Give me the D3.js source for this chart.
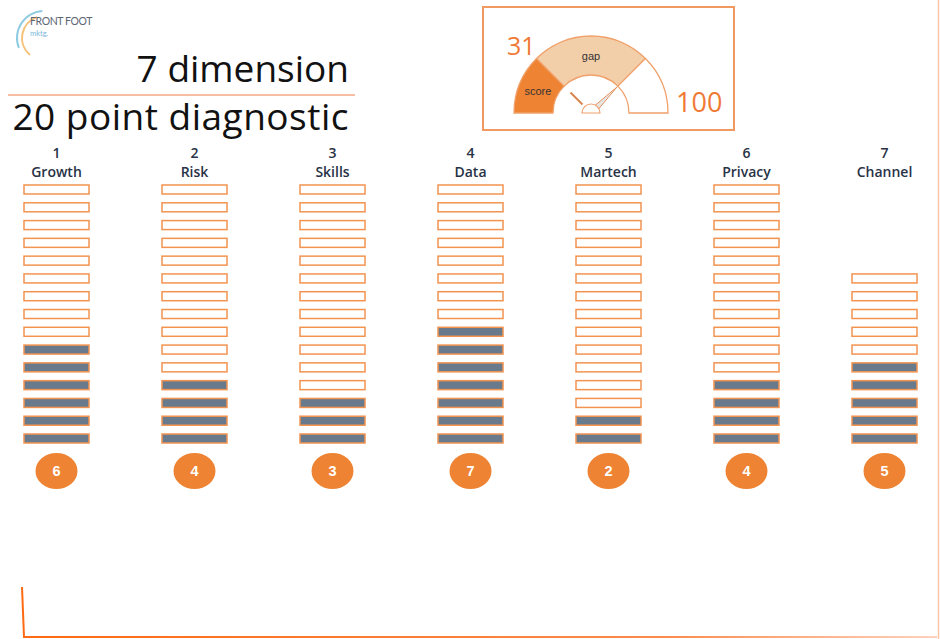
<!DOCTYPE html>
<html>
<head>
<meta charset="utf-8">
<script src="https://cdn.jsdelivr.net/npm/d3@7"></script>
<style>
  body { margin: 0; background: #fff; }
  svg { display: block; }
</style>
</head>
<body>
<div id="chart"></div>
<script>
// dimensions, in the order they appear
var categories = ["Growth", "Risk", "Skills", "Data", "Martech", "Privacy", "Channel"];
var maxPoints = [15, 15, 15, 15, 15, 15, 10];
var scores = [6, 4, 3, 7, 2, 4, 5];

// gauge bands (0-100 scale) and its two end labels
var gaugeBands = [
  { label: "score", from: 0, to: 25 },
  { label: "gap", from: 25, to: 75 },
  { label: "", from: 75, to: 100 }
];
var gaugeScore = 31;
var gaugeMax = 100;
var needleAt = 75;
var markerAt = 25;

var titleLines = ["7 dimension", "20 point diagnostic"];

var W = 940, H = 639;
var orange = "#ee8433", slate = "#687a8c", ink = "#283246";

var svg = d3.select("#chart")
    .append("svg")
    .attr("width", W).attr("height", H)

var defs = svg.append("defs")
var grad = defs.append("linearGradient").attr("id", "fade")
grad.append("stop").attr("offset", "0%").attr("stop-color", "#ff6a13")
grad.append("stop").attr("offset", "70%").attr("stop-color", "#fb8a4c")
grad.append("stop").attr("offset", "100%").attr("stop-color", "#fdd2bd")

// frame lines
svg.append("line")
  .attr("x1", 938.5).attr("y1", 0).attr("x2", 938.5).attr("y2", H)
  .attr("stroke", "#fcc6ad").attr("stroke-width", 1.5)
svg.append("path")
  .attr("d", "M22,587 L24,637")
  .attr("fill", "none").attr("stroke", "#ff6a13").attr("stroke-width", 2)
svg.append("rect")
  .attr("x", 23).attr("y", 636).attr("width", 914).attr("height", 2)
  .attr("fill", "url(#fade)")

// logo
var logo = svg.append("g").attr("transform", "translate(44,38)")
logo.append("path")
  .attr("d", d3.arc().innerRadius(26).outerRadius(28)
        .startAngle(-Math.PI * 0.62).endAngle(-Math.PI * 0.02)())
  .attr("fill", "#8ecbe0")
logo.append("path")
  .attr("d", d3.arc().innerRadius(21).outerRadius(23)
        .startAngle(-Math.PI * 0.78).endAngle(-Math.PI * 0.1)())
  .attr("fill", "#f6c27a")
logo.append("text")
  .attr("x", -14).attr("y", -13)
  .attr("font-family", "Lato, sans-serif").attr("font-size", 10.5)
  .attr("fill", "#5b6573").attr("letter-spacing", -0.4)
  .text("FRONT FOOT")
logo.append("text")
  .attr("x", -14).attr("y", -2)
  .attr("font-family", "Lato, sans-serif").attr("font-size", 7.5)
  .attr("fill", "#7ab8d9")
  .text("mktg.")

// title
svg.selectAll(".title")
  .data(titleLines)
  .enter()
  .append("text")
  .attr("class", "title")
  .attr("x", 349)
  .attr("y", (d, i) => 82 + i * 48)
  .attr("text-anchor", "end")
  .attr("font-family", "'Open Sans', sans-serif")
  .attr("font-size", 37)
  .attr("letter-spacing", (d, i) => i ? 0.5 : 0)
  .attr("fill", "#111")
  .text(d => d)
svg.append("line")
  .attr("x1", 8).attr("x2", 355).attr("y1", 95).attr("y2", 95)
  .attr("stroke", "#f6a985").attr("stroke-width", 1.5)

// gauge box
svg.append("rect")
  .attr("x", 483).attr("y", 7).attr("width", 251).attr("height", 123)
  .attr("fill", "none").attr("stroke", "#f09a62").attr("stroke-width", 2)

var g = svg.append("g").attr("transform", "translate(591,113)")
var ang = d3.scaleLinear().domain([0, gaugeMax]).range([-Math.PI / 2, Math.PI / 2])
var arc = d3.arc().innerRadius(38).outerRadius(77)
var bandFill = { score: "#ee8433", gap: "#f3cfa9", "": "#fff" }

g.selectAll(".band")
  .data(gaugeBands)
  .enter()
  .append("path")
  .attr("class", "band")
  .attr("d", d => arc({ startAngle: ang(d.from), endAngle: ang(d.to) }))
  .attr("fill", d => bandFill[d.label])
  .attr("stroke", "#f0a06a").attr("stroke-width", 1.3)

g.selectAll(".bandlbl")
  .data(gaugeBands.filter(d => d.label))
  .enter()
  .append("text")
  .attr("class", "bandlbl")
  .attr("transform", d => {
    var c = arc.centroid({ startAngle: ang(d.from), endAngle: ang(d.to) })
    return "translate(" + c[0] + "," + (c[1] + 4) + ")"
  })
  .attr("text-anchor", "middle")
  .attr("font-family", "Liberation Sans, Arial, sans-serif")
  .attr("font-size", 11)
  .attr("fill", "#333")
  .text(d => d.label)

function polar(v, r) {
  var a = ang(v)
  return [r * Math.sin(a), -r * Math.cos(a)]
}

// marker tick
var m0 = polar(markerAt, 12), m1 = polar(markerAt, 29)
g.append("line")
  .attr("x1", m0[0]).attr("y1", m0[1]).attr("x2", m1[0]).attr("y2", m1[1])
  .attr("stroke", "#d98650").attr("stroke-width", 2)

// needle
var a = ang(needleAt)
var tip = polar(needleAt, 37)
var side = 2.5
var b1 = [8 * Math.sin(a) + side * Math.cos(a), -8 * Math.cos(a) + side * Math.sin(a)]
var b2 = [8 * Math.sin(a) - side * Math.cos(a), -8 * Math.cos(a) - side * Math.sin(a)]
g.append("path")
  .attr("d", "M" + b1 + "L" + tip + "L" + b2 + "Z")
  .attr("fill", "#e6e6e6").attr("stroke", "#e9925a").attr("stroke-width", 1)
g.append("path")
  .attr("d", d3.arc().innerRadius(0).outerRadius(9)
        .startAngle(-Math.PI / 2).endAngle(Math.PI / 2)())
  .attr("fill", "#fff").attr("stroke", "#f0a06a").attr("stroke-width", 1.2)

g.append("text")
  .attr("x", -84).attr("y", -58)
  .attr("font-family", "'Open Sans', sans-serif").attr("font-size", 25)
  .attr("fill", "#f07a35")
  .text(gaugeScore)
g.append("text")
  .attr("x", 85).attr("y", -1)
  .attr("font-family", "'Open Sans', sans-serif").attr("font-size", 27)
  .attr("fill", "#f07a35")
  .text(gaugeMax)

// dimension columns
var x = d3.scalePoint().domain(categories).range([56.5, 884.5])
var y = d3.scaleLinear().domain([0, 14]).range([434, 185])
var barW = 65, barH = 9

var cols = svg.selectAll(".col")
  .data(categories.map((c, i) => ({ name: c, idx: i + 1, max: maxPoints[i], score: scores[i] })))
  .enter()
  .append("g")
  .attr("class", "col")
  .attr("transform", d => "translate(" + x(d.name) + ",0)")

cols.append("text")
  .attr("y", 158)
  .attr("text-anchor", "middle")
  .attr("font-family", "'Open Sans', sans-serif").attr("font-size", 14)
  .attr("font-weight", 600)
  .attr("fill", ink)
  .text(d => d.idx)
cols.append("text")
  .attr("y", 177)
  .attr("text-anchor", "middle")
  .attr("font-family", "'Open Sans', sans-serif").attr("font-size", 14)
  .attr("font-weight", 600)
  .attr("fill", ink)
  .text(d => d.name)

cols.selectAll(".pt")
  .data(d => d3.range(d.max).map(i => ({ i: i, on: i < d.score })))
  .enter()
  .append("rect")
  .attr("class", "pt")
  .attr("x", -barW / 2)
  .attr("y", d => y(d.i))
  .attr("width", barW).attr("height", barH)
  .attr("fill", d => d.on ? slate : "#fff")
  .attr("stroke", "#f29450").attr("stroke-width", 1.5)

cols.append("ellipse")
  .attr("cx", 0).attr("cy", 471)
  .attr("rx", 21).attr("ry", 18)
  .attr("fill", orange)
cols.append("text")
  .attr("y", 476)
  .attr("text-anchor", "middle")
  .attr("font-family", "Liberation Sans, Arial, sans-serif")
  .attr("font-weight", "bold").attr("font-size", 14.5)
  .attr("fill", "#fff")
  .text(d => d.score)
</script>
</body>
</html>
